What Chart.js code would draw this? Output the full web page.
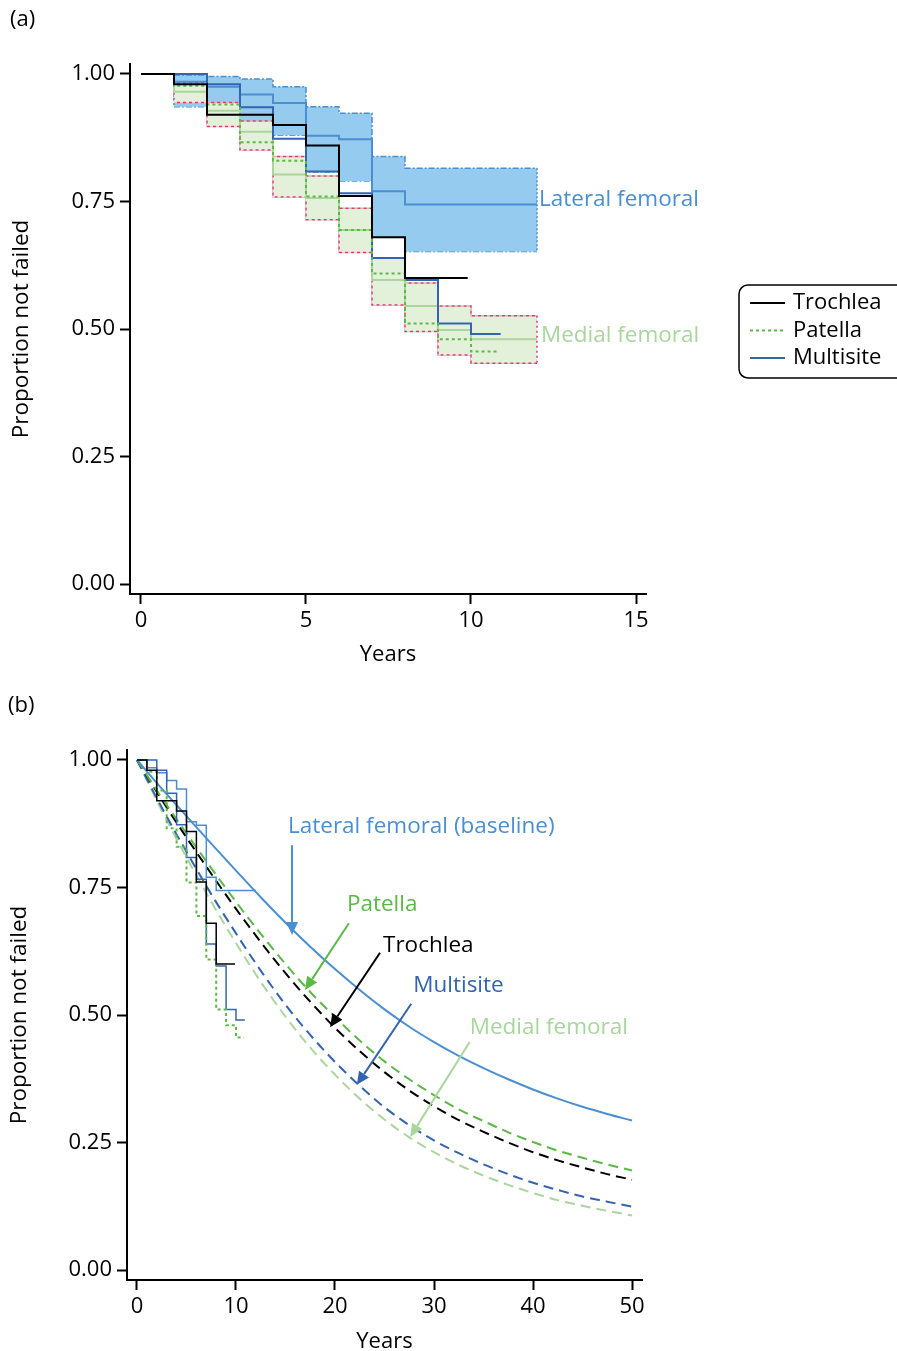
<!DOCTYPE html>
<html>
<head>
<meta charset="utf-8">
<title>Survival by implant site</title>
<script src="https://cdn.jsdelivr.net/npm/chart.js@4.4.0/dist/chart.umd.min.js"></script>
<style>
  body { margin: 0; background: #fff; }
  #wrap { position: relative; width: 897px; height: 1351px; }
  canvas { position: absolute; left: 0; }
  #survA { top: 0; }
  #survB { top: 680px; }
</style>
</head>
<body>
<div id="wrap">
  <canvas id="survA" width="897" height="680"></canvas>
  <canvas id="survB" width="897" height="671"></canvas>
</div>
<script>
// --- Kaplan-Meier estimates (years, proportion not failed) ---
const trochleaYears = [0, 1, 2, 4, 5, 6, 7, 8, 9.9];
const trochleaSurv  = [1, 0.98, 0.92, 0.90, 0.86, 0.761, 0.68, 0.60, 0.60];

const patellaYears = [0, 1, 2, 3, 4, 5, 6, 7, 8, 9, 10, 10.8];
const patellaSurv  = [1, 0.977, 0.94, 0.866, 0.83, 0.76, 0.694, 0.609, 0.511, 0.48, 0.456, 0.456];

const multiYears = [0, 2, 3, 4, 5, 6, 7, 8, 9, 10, 10.9];
const multiSurv  = [1, 0.98, 0.935, 0.873, 0.809, 0.766, 0.639, 0.596, 0.511, 0.49, 0.49];

const lateralYears = [0, 1, 2, 3, 4, 5, 6, 7, 8, 12];
const lateralSurv  = [1, 0.985, 0.975, 0.96, 0.943, 0.879, 0.872, 0.77, 0.744, 0.744];
const lateralCiYears = [1, 2, 3, 4, 5, 6, 7, 8, 12];
const lateralUpper = [0.998, 0.995, 0.99, 0.975, 0.936, 0.923, 0.838, 0.815, 0.815];
const lateralLower = [0.936, 0.925, 0.905, 0.88, 0.808, 0.79, 0.68, 0.652, 0.652];

const medialYears = [0, 1, 2, 3, 4, 5, 6, 7, 8, 9, 10, 12];
const medialSurv  = [1, 0.965, 0.928, 0.887, 0.803, 0.757, 0.694, 0.596, 0.545, 0.498, 0.48, 0.48];
const medialCiYears = [1, 2, 3, 4, 5, 6, 7, 8, 9, 10, 12];
const medialUpper = [0.983, 0.944, 0.908, 0.838, 0.80, 0.737, 0.639, 0.59, 0.545, 0.526, 0.526];
const medialLower = [0.944, 0.897, 0.851, 0.759, 0.714, 0.65, 0.547, 0.495, 0.449, 0.433, 0.433];

// --- Extrapolated model curves for panel (b) ---
const fitYears    = [0, 2.5, 5, 7.5, 10, 12.5, 15, 17.5, 20, 22.5, 25, 27.5, 30, 32.5, 35, 37.5, 40, 42.5, 45, 47.5, 50];
const fitLateral  = [1, 0.944, 0.89, 0.836, 0.783, 0.731, 0.681, 0.634, 0.59, 0.549, 0.511, 0.477, 0.447, 0.42, 0.396, 0.374, 0.354, 0.336, 0.32, 0.306, 0.293];
const fitPatella  = [1, 0.926, 0.856, 0.788, 0.722, 0.659, 0.600, 0.545, 0.496, 0.450, 0.409, 0.374, 0.343, 0.315, 0.292, 0.270, 0.251, 0.234, 0.220, 0.207, 0.195];
const fitTrochlea = [1, 0.922, 0.848, 0.777, 0.708, 0.643, 0.582, 0.526, 0.475, 0.429, 0.388, 0.352, 0.321, 0.294, 0.271, 0.250, 0.231, 0.215, 0.201, 0.188, 0.177];
const fitMulti    = [1, 0.907, 0.820, 0.737, 0.660, 0.587, 0.520, 0.461, 0.408, 0.361, 0.319, 0.284, 0.254, 0.229, 0.207, 0.188, 0.171, 0.157, 0.144, 0.134, 0.124];
const fitMedial   = [1, 0.901, 0.809, 0.722, 0.641, 0.565, 0.497, 0.436, 0.383, 0.336, 0.295, 0.260, 0.231, 0.206, 0.185, 0.167, 0.151, 0.137, 0.126, 0.116, 0.107];

const yTicks  = [0, 0.25, 0.5, 0.75, 1];
const xTicksA = [0, 5, 10, 15];
const xTicksB = [0, 10, 20, 30, 40, 50];

const FONT = '"Open Sans", "DejaVu Sans", sans-serif';
const LAT = '#4a8fd2', LAT_FILL = '#95cbee';
const MED = '#a9d69d', MED_FILL = '#e3f1da', MED_EDGE = '#b8c6a6', PINK = '#e8337c';
const PAT = '#5bb946', MULTI = '#3464b0', TRO = '#000000';

const pts = (xs, ys) => xs.map((x, i) => ({ x: x, y: ys[i] }));

function stepLine(label, xs, ys, color, width, dash, order) {
    return {
        label: label, data: pts(xs, ys), borderColor: color, borderWidth: width,
        borderDash: dash || [], stepped: true, pointRadius: 0, fill: false, order: order
    };
}

// vertical closing edges of a confidence band (first and last interval)
function bandEdges(xs, up, lo, color, dash, order) {
    const n = xs.length - 1;
    return {
        data: [{ x: xs[0], y: up[0] }, { x: xs[0], y: lo[0] }, { x: (xs[0] + xs[n]) / 2, y: null },
               { x: xs[n], y: up[n] }, { x: xs[n], y: lo[n] }],
        borderColor: color, borderWidth: 1.5, borderDash: dash, pointRadius: 0, fill: false,
        spanGaps: false, order: order
    };
}

function curve(label, ys, color, width, dash, order) {
    return {
        label: label, data: pts(fitYears, ys), borderColor: color, borderWidth: width,
        borderDash: dash || [], cubicInterpolationMode: 'monotone', pointRadius: 0, fill: false, order: order
    };
}

function axes(xr, xTicks, yr, yWidth, xHeight) {
    const common = {
        type: 'linear',
        grid: { drawOnChartArea: false, drawTicks: true, tickLength: 10, tickColor: '#000', tickWidth: 2 },
        border: { display: true, color: '#000', width: 2 }
    };
    return {
        x: Object.assign({}, common, {
            min: xr[0], max: xr[1],
            afterBuildTicks: s => { s.ticks = xTicks.map(v => ({ value: v })); },
            afterFit: s => { s.height = xHeight; },
            ticks: { color: '#000', font: { family: FONT, size: 22 }, padding: 4, maxRotation: 0,
                     callback: v => String(v) }
        }),
        y: Object.assign({}, common, {
            min: yr[0], max: yr[1],
            afterBuildTicks: s => { s.ticks = yTicks.map(v => ({ value: v })); },
            afterFit: s => { s.width = yWidth; },
            ticks: { color: '#000', font: { family: FONT, size: 22 }, padding: 5,
                     callback: v => Number(v).toFixed(2) }
        })
    };
}

// labels, arrows, axis titles and legend drawn on top of the plot
const notesPlugin = {
    id: 'notes',
    afterDraw(chart) {
        const o = chart.options.plugins.notes;
        if (!o) return;
        const ctx = chart.ctx, sx = chart.scales.x, sy = chart.scales.y, area = chart.chartArea;
        ctx.save();
        ctx.textBaseline = 'middle';
        ctx.font = '22px ' + FONT;
        ctx.fillStyle = '#000';
        ctx.textAlign = 'left';
        ctx.fillText(o.tag[0], o.tag[1], o.tag[2]);

        ctx.textAlign = 'center';
        ctx.fillText('Years', (area.left + area.right) / 2, o.xTitleY);
        ctx.save();
        ctx.translate(o.yTitleX, (area.top + area.bottom) / 2);
        ctx.rotate(-Math.PI / 2);
        ctx.font = '22.5px ' + FONT;
        ctx.fillText('Proportion not failed', 0, 0);
        ctx.restore();

        (o.arrows || []).forEach(a => {
            const x0 = sx.getPixelForValue(a.from[0]), y0 = sy.getPixelForValue(a.from[1]);
            const x1 = sx.getPixelForValue(a.to[0]), y1 = sy.getPixelForValue(a.to[1]);
            const ang = Math.atan2(y1 - y0, x1 - x0), head = 13, half = 6;
            const bx = x1 - head * Math.cos(ang), by = y1 - head * Math.sin(ang);
            ctx.strokeStyle = a.color; ctx.fillStyle = a.color; ctx.lineWidth = 2;
            ctx.beginPath(); ctx.moveTo(x0, y0); ctx.lineTo(bx, by); ctx.stroke();
            ctx.beginPath();
            ctx.moveTo(x1, y1);
            ctx.lineTo(bx + half * Math.sin(ang), by - half * Math.cos(ang));
            ctx.lineTo(bx - half * Math.sin(ang), by + half * Math.cos(ang));
            ctx.closePath(); ctx.fill();
        });

        ctx.textAlign = 'left';
        ctx.font = '22.5px ' + FONT;
        (o.labels || []).forEach(l => {
            ctx.fillStyle = l.color;
            ctx.fillText(l.text, sx.getPixelForValue(l.x), sy.getPixelForValue(l.y));
        });

        if (o.legend) {
            const lg = o.legend;
            ctx.font = '22px ' + FONT;
            ctx.strokeStyle = '#000'; ctx.lineWidth = 1.5;
            ctx.beginPath(); ctx.roundRect(lg.x, lg.y, lg.w, lg.h, 9); ctx.stroke();
            lg.items.forEach((it, i) => {
                const yy = lg.y + 18 + i * 27.5;
                ctx.strokeStyle = it.color; ctx.lineWidth = 2; ctx.setLineDash(it.dash);
                ctx.beginPath(); ctx.moveTo(lg.x + 11, yy); ctx.lineTo(lg.x + 46, yy); ctx.stroke();
                ctx.setLineDash([]);
                ctx.fillStyle = '#000';
                ctx.fillText(it.text, lg.x + 54, yy);
            });
        }
        ctx.restore();
    }
};

const baseOptions = {
    responsive: false,
    animation: false,
    events: [],
    plugins: { legend: { display: false }, tooltip: { enabled: false } }
};

// ---------- Panel (a): observed survival with confidence bands ----------
new Chart(document.getElementById('survA'), {
    type: 'line',
    data: {
        datasets: [
            // lateral femoral band (0,1) and its outline
            Object.assign(stepLine('Lateral upper', lateralCiYears, lateralUpper, LAT, 1.5, [6, 2, 2, 2], 20),
                          { fill: '+1', backgroundColor: LAT_FILL }),
            stepLine('Lateral lower', lateralCiYears, lateralLower, LAT, 1.5, [6, 2, 2, 2], 20),
            bandEdges(lateralCiYears, lateralUpper, lateralLower, LAT, [2, 2], 19),
            // medial femoral band (3,4) with a two-tone dotted outline
            Object.assign(stepLine('Medial upper', medialCiYears, medialUpper, MED_EDGE, 1.5, [3, 3], 15),
                          { fill: '+1', backgroundColor: MED_FILL }),
            stepLine('Medial lower', medialCiYears, medialLower, MED_EDGE, 1.5, [3, 3], 15),
            Object.assign(stepLine('Medial upper dots', medialCiYears, medialUpper, PINK, 1.5, [3, 3], 14),
                          { borderDashOffset: 3 }),
            Object.assign(stepLine('Medial lower dots', medialCiYears, medialLower, PINK, 1.5, [3, 3], 14),
                          { borderDashOffset: 3 }),
            bandEdges(medialCiYears, medialUpper, medialLower, PINK, [2, 3], 14),
            // point estimates
            stepLine('Lateral femoral', lateralYears, lateralSurv, LAT, 2, [], 10),
            stepLine('Medial femoral', medialYears, medialSurv, MED, 2, [], 10),
            stepLine('Multisite', multiYears, multiSurv, MULTI, 2, [], 4),
            stepLine('Patella', patellaYears, patellaSurv, PAT, 2, [3, 3], 3),
            stepLine('Trochlea', trochleaYears, trochleaSurv, TRO, 2, [], 2)
        ]
    },
    options: Object.assign({}, baseOptions, {
        layout: { padding: { left: 0, top: 64, right: 251, bottom: 0 } },
        scales: axes([-0.333, 15.303], xTicksA, [-0.0196, 1.0196], 130, 86),
        plugins: Object.assign({}, baseOptions.plugins, {
            notes: {
                tag: ['(a)', 10, 20],
                xTitleY: 655,
                yTitleX: 22,
                labels: [
                    { text: 'Lateral femoral', x: 12.06, y: 0.753, color: LAT },
                    { text: 'Medial femoral', x: 12.12, y: 0.488, color: MED }
                ],
                legend: {
                    x: 739, y: 285, w: 175, h: 93,
                    items: [
                        { text: 'Trochlea', color: TRO, dash: [] },
                        { text: 'Patella', color: PAT, dash: [3, 3] },
                        { text: 'Multisite', color: MULTI, dash: [] }
                    ]
                }
            }
        })
    }),
    plugins: [notesPlugin]
});

// ---------- Panel (b): observed steps with extrapolated curves ----------
new Chart(document.getElementById('survB'), {
    type: 'line',
    data: {
        datasets: [
            curve('Lateral femoral (baseline)', fitLateral, LAT, 2, [], 8),
            curve('Patella fit', fitPatella, PAT, 2, [10, 6], 8),
            curve('Trochlea fit', fitTrochlea, TRO, 2, [10, 6], 8),
            curve('Multisite fit', fitMulti, MULTI, 2, [10, 6], 8),
            curve('Medial femoral fit', fitMedial, MED, 2, [10, 6], 8),
            stepLine('Lateral femoral', lateralYears, lateralSurv, LAT, 1.5, [], 5),
            stepLine('Multisite', multiYears, multiSurv, MULTI, 1.5, [], 4),
            stepLine('Patella', patellaYears, patellaSurv, PAT, 2, [3, 3], 3),
            stepLine('Trochlea', trochleaYears, trochleaSurv, TRO, 1.5, [], 2)
        ]
    },
    options: Object.assign({}, baseOptions, {
        layout: { padding: { left: 0, top: 70, right: 255, bottom: 0 } },
        scales: axes([-1.01, 51.01], xTicksB, [-0.0196, 1.0196], 127, 71),
        plugins: Object.assign({}, baseOptions.plugins, {
            notes: {
                tag: ['(b)', 8, 26],
                xTitleY: 662,
                yTitleX: 20,
                arrows: [
                    { from: [15.66, 0.833], to: [15.66, 0.657], color: LAT },
                    { from: [21.4, 0.680], to: [16.97, 0.549], color: PAT },
                    { from: [24.55, 0.622], to: [19.5, 0.476], color: TRO },
                    { from: [27.7, 0.522], to: [22.2, 0.363], color: MULTI },
                    { from: [33.6, 0.447], to: [27.6, 0.261], color: MED }
                ],
                labels: [
                    { text: 'Lateral femoral (baseline)', x: 15.25, y: 0.869, color: LAT },
                    { text: 'Patella', x: 21.2, y: 0.716, color: PAT },
                    { text: 'Trochlea', x: 24.85, y: 0.637, color: TRO },
                    { text: 'Multisite', x: 27.9, y: 0.557, color: MULTI },
                    { text: 'Medial femoral', x: 33.6, y: 0.476, color: MED }
                ]
            }
        })
    }),
    plugins: [notesPlugin]
});
</script>
</body>
</html>
